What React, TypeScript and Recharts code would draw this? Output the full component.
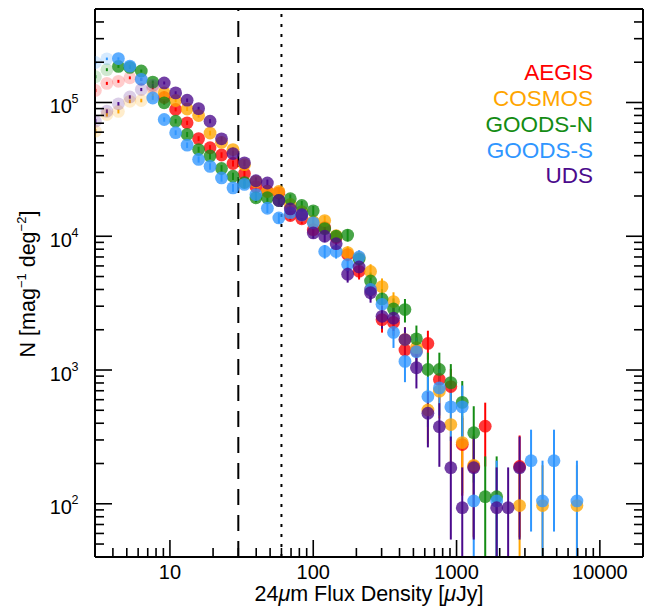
import React from 'react';
import { ScatterChart, Scatter, XAxis, YAxis, ErrorBar, ReferenceLine, Legend } from 'recharts';

// 24um flux density bin centres (uJy), 0.2 mag wide bins
const FLUX = [3.02, 3.63, 4.37, 5.25, 6.31, 7.59, 9.12, 10.96, 13.18, 15.85, 19.05, 22.91, 27.54, 33.11, 39.81, 47.86, 57.54, 69.18, 83.18, 100, 120.2, 144.5, 173.8, 208.9, 251.2, 302, 363.1, 436.5, 524.8, 631, 758.6, 912, 1096, 1318, 1585, 1905, 2291, 2754, 3311, 3981, 4786, 5754, 6918];

// Differential number counts N [mag^-1 deg^-2] per field, null = empty bin
const AEGIS_N = [123000, 139000, 144000, 153000, 149000, 129000, 109000, 88700, 70500, 53700, 45900, 40500, 35000, 29400, 23500, 21700, 21100, 14300, 13500, 11200, 11600, 9800, 7300, 5470, 3990, 2380, 2270, 1410, 1390, 1580, 849, 752, 277, 190, 380, null, null, 190, null, null, null, null, null];
const AEGIS_ERR = [3418, 3634, 3699, 3812, 3762, 3501, 3218, 2903, 2588, 2259, 2088, 1962, 1823, 1671, 1494, 1436, 1416, 1166, 1132, 1032, 1050, 965, 833, 721, 616, 476, 464, 366, 363, 387, 284, 267, 162, 134, 190, null, null, 134, null, null, null, null, null];

const COSMOS_N = [61000, 81300, 85700, 102000, 103500, 113000, 118000, 103500, 89400, 79900, 59100, 50300, 44500, 34300, 25600, 21600, 21600, 17300, 15300, 12900, 13100, 10100, 7550, 6900, 5450, 4200, 3250, 1690, 1470, 503, 695, 391, 287, 194, null, null, null, 97, null, 97, null, null, 97];
const COSMOS_ERR = [2432, 2808, 2883, 3145, 3169, 3310, 3383, 3169, 2945, 2784, 2394, 2209, 2078, 1824, 1576, 1447, 1447, 1295, 1218, 1119, 1127, 990, 856, 818, 727, 638, 561, 405, 378, 221, 260, 195, 167, 137, null, null, null, 97, null, 97, null, null, 97];

const GOODSN_N = [156000, 176000, 186000, 183000, 172000, 142000, 99500, 72500, 57700, 44500, 39800, 32100, 28100, 25200, 19400, 19400, 18500, 19100, 17000, 15500, 11400, 10000, 10200, 6750, 4630, 3400, 2860, 2830, 1710, 1010, 1010, 805, 573, 340, 113, 113, null, null, null, null, null, null, null];
const GOODSN_ERR = [4199, 4460, 4585, 4547, 4409, 4006, 3353, 2862, 2553, 2242, 2121, 1905, 1782, 1688, 1481, 1481, 1446, 1469, 1386, 1323, 1135, 1063, 1074, 873, 723, 620, 568, 565, 440, 338, 338, 302, 254, 196, 113, 113, null, null, null, null, null, null, null];

const GOODSS_N = [199000, 212000, 213000, 187000, 149000, 108000, 74600, 59500, 48000, 37500, 33300, 27300, 23000, 24400, 20500, 16200, 13700, 15000, 14400, 12600, 7700, 7700, 6140, 7000, 4000, 3100, 1910, 1160, 1370, 633, 735, 530, 530, 105, null, 105, null, null, 210, 105, 210, null, 105];
const GOODSS_ERR = [4571, 4718, 4729, 4431, 3955, 3367, 2799, 2500, 2245, 1984, 1870, 1693, 1554, 1601, 1467, 1304, 1199, 1255, 1230, 1150, 899, 899, 803, 857, 648, 571, 448, 349, 379, 258, 278, 236, 236, 105, null, 105, null, null, 148, 105, 148, null, 105];

const UDS_N = [72500, 86000, 97700, 110000, 125000, 134000, 140000, 118000, 104000, 90000, 72500, 53500, 41500, 35400, 26000, 25000, 18500, 16000, 14500, 10600, 10000, 8800, 5200, 5900, 3780, 2520, 2440, 1690, 1040, 475, 377, 186, 93.5, 186, null, 93.5, 93.5, 186, null, null, null, null, null];
const UDS_ERR = [2604, 2836, 3022, 3207, 3419, 3540, 3618, 3322, 3118, 2901, 2604, 2237, 1970, 1819, 1559, 1529, 1315, 1223, 1164, 996, 967, 907, 697, 743, 594, 485, 478, 398, 312, 211, 188, 132, 93.5, 132, null, 93.5, 93.5, 132, null, null, null, null, null];

// number of leading bins below each field's completeness limit
const AEGIS_INCOMPLETE = 6;
const COSMOS_INCOMPLETE = 6;
const GOODSN_INCOMPLETE = 2;
const GOODSS_INCOMPLETE = 2;
const UDS_INCOMPLETE = 6;

// flux limits marked on the plot (uJy)
const DASHED_LIMIT = 30;
const DOTTED_LIMIT = 60;

// axis ranges and ticks
const X_DOMAIN = [3, 20000];
const Y_DOMAIN = [40, 500000];
const X_TICKS = [4, 5, 6, 7, 8, 9, 10, 20, 30, 40, 50, 60, 70, 80, 90, 100, 200, 300, 400, 500, 600, 700, 800, 900, 1000, 2000, 3000, 4000, 5000, 6000, 7000, 8000, 9000, 10000];
const X_MAJOR = [10, 100, 1000, 10000];
const X_LABELS = ['10', '100', '1000', '10000'];
const Y_TICKS = [50, 60, 70, 80, 90, 100, 200, 300, 400, 500, 600, 700, 800, 900, 1000, 2000, 3000, 4000, 5000, 6000, 7000, 8000, 9000, 10000, 20000, 30000, 40000, 50000, 60000, 70000, 80000, 90000, 100000, 200000, 300000, 400000];
const Y_MAJOR = [100, 1000, 10000, 100000];
const Y_EXPONENTS = ['2', '3', '4', '5'];

const FONT = '"Liberation Sans", Helvetica, Arial, sans-serif';

const SERIES = [
  { name: 'AEGIS', color: '#ff0000', n: AEGIS_N, err: AEGIS_ERR, incomplete: AEGIS_INCOMPLETE },
  { name: 'COSMOS', color: '#ffa500', n: COSMOS_N, err: COSMOS_ERR, incomplete: COSMOS_INCOMPLETE },
  { name: 'GOODS-N', color: '#148c14', n: GOODSN_N, err: GOODSN_ERR, incomplete: GOODSN_INCOMPLETE },
  { name: 'GOODS-S', color: '#2f96ff', n: GOODSS_N, err: GOODSS_ERR, incomplete: GOODSS_INCOMPLETE },
  { name: 'UDS', color: '#4b0a8c', n: UDS_N, err: UDS_ERR, incomplete: UDS_INCOMPLETE },
];

// error bars are cut at the bottom of the plot, like the frame clips everything else
const rowsFor = (s: typeof SERIES[number]) =>
  FLUX.map((flux, i) => {
    const n = s.n[i];
    const e = s.err[i];
    if (n == null || e == null) return null;
    return { flux, n, err: [Math.min(e, n - Y_DOMAIN[0]), e], faint: i < s.incomplete };
  }).filter((r) => r != null);

const makeDot = (color: string) => (props: any) => {
  const { cx, cy, payload } = props;
  if (cx == null || cy == null) return null;
  return <circle cx={cx} cy={cy} r={6.4} fill={color} fillOpacity={payload.faint ? 0.2 : 0.78} />;
};

const MAJOR_LEN = 17;
const MINOR_LEN = 9;
const TICK_STROKE = 1.6;

const BottomTick = (props: any) => {
  const { x, y, payload } = props;
  const idx = X_MAJOR.indexOf(payload.value);
  const len = idx >= 0 ? MAJOR_LEN : MINOR_LEN;
  return (
    <g>
      <line x1={x} y1={y} x2={x} y2={y - len} stroke="#000" strokeWidth={TICK_STROKE} />
      {idx >= 0 && (
        <text x={x} y={y + 21.5} textAnchor="middle" fontSize={20} fontFamily={FONT} fill="#000">
          {X_LABELS[idx]}
        </text>
      )}
    </g>
  );
};

const TopTick = (props: any) => {
  const { x, y, payload } = props;
  const len = X_MAJOR.indexOf(payload.value) >= 0 ? MAJOR_LEN : MINOR_LEN;
  return <line x1={x} y1={y} x2={x} y2={y + len} stroke="#000" strokeWidth={TICK_STROKE} />;
};

const LeftTick = (props: any) => {
  const { x, y, payload } = props;
  const idx = Y_MAJOR.indexOf(payload.value);
  const len = idx >= 0 ? MAJOR_LEN : MINOR_LEN;
  return (
    <g>
      <line x1={x} y1={y} x2={x + len} y2={y} stroke="#000" strokeWidth={TICK_STROKE} />
      {idx >= 0 && (
        <g fontFamily={FONT} fill="#000">
          <text x={x - 23} y={y + 10.5} textAnchor="end" fontSize={20}>10</text>
          <text x={x - 23.5} y={y + 0.5} textAnchor="start" fontSize={12.5}>{Y_EXPONENTS[idx]}</text>
        </g>
      )}
    </g>
  );
};

const RightTick = (props: any) => {
  const { x, y, payload } = props;
  const len = Y_MAJOR.indexOf(payload.value) >= 0 ? MAJOR_LEN : MINOR_LEN;
  return <line x1={x} y1={y} x2={x - len} y2={y} stroke="#000" strokeWidth={TICK_STROKE} />;
};

const FieldLegend = () => (
  <div style={{ textAlign: 'right', fontFamily: FONT, fontSize: 22.5, lineHeight: '25.8px' }}>
    {SERIES.map((s) => (
      <div key={s.name} style={{ color: s.color }}>{s.name}</div>
    ))}
  </div>
);

const AXIS_LINE = { stroke: '#000', strokeWidth: 2 };

export default function App() {
  return (
    <div style={{ position: 'absolute', left: 0, top: 0, width: 656, height: 611, background: '#fff' }}>
      <ScatterChart width={656} height={611} margin={{ top: 0, right: 0, bottom: 0, left: 0 }}>
        <XAxis
          xAxisId="b"
          dataKey="flux"
          type="number"
          scale="log"
          domain={X_DOMAIN}
          allowDataOverflow
          ticks={X_TICKS}
          interval={0}
          height={54}
          tickSize={0}
          tickMargin={0}
          tickLine={false}
          axisLine={AXIS_LINE}
          tick={<BottomTick />}
        />
        <XAxis
          xAxisId="t"
          orientation="top"
          type="number"
          scale="log"
          domain={X_DOMAIN}
          allowDataOverflow
          ticks={X_TICKS}
          interval={0}
          height={9}
          tickSize={0}
          tickMargin={0}
          tickLine={false}
          axisLine={AXIS_LINE}
          tick={<TopTick />}
        />
        <YAxis
          yAxisId="l"
          dataKey="n"
          type="number"
          scale="log"
          domain={Y_DOMAIN}
          allowDataOverflow
          ticks={Y_TICKS}
          interval={0}
          width={95}
          tickSize={0}
          tickMargin={0}
          tickLine={false}
          axisLine={AXIS_LINE}
          tick={<LeftTick />}
        />
        <YAxis
          yAxisId="r"
          orientation="right"
          type="number"
          scale="log"
          domain={Y_DOMAIN}
          allowDataOverflow
          ticks={Y_TICKS}
          interval={0}
          width={13}
          tickSize={0}
          tickMargin={0}
          tickLine={false}
          axisLine={AXIS_LINE}
          tick={<RightTick />}
        />
        <ReferenceLine xAxisId="b" yAxisId="l" x={DASHED_LIMIT} stroke="#000" strokeWidth={2} strokeDasharray="16 10" />
        <ReferenceLine xAxisId="b" yAxisId="l" x={DOTTED_LIMIT} stroke="#000" strokeWidth={2} strokeDasharray="3 7" />
        {SERIES.map((s) => (
          <Scatter
            key={s.name}
            name={s.name}
            xAxisId="b"
            yAxisId="l"
            data={rowsFor(s)}
            fill={s.color}
            shape={makeDot(s.color)}
            isAnimationActive={false}
          >
            <ErrorBar dataKey="err" direction="y" width={0} stroke={s.color} strokeWidth={2} isAnimationActive={false} />
          </Scatter>
        ))}
        <Legend
          layout="horizontal"
          verticalAlign="middle"
          align="center"
          content={<FieldLegend />}
          wrapperStyle={{ top: 60.3, right: 63, left: 'auto', width: 'auto', bottom: 'auto' }}
        />
        <text x={369} y={601} textAnchor="middle" fontSize={21.5} fontFamily={FONT} fill="#000">
          24<tspan fontStyle="italic">μ</tspan>m Flux Density [<tspan fontStyle="italic">μ</tspan>Jy]
        </text>
        <text transform="translate(35,284) rotate(-90)" textAnchor="middle" fontSize={21.5} fontFamily={FONT} fill="#000">
          N [mag<tspan dy={-9} fontSize={13}>−1</tspan>
          <tspan dy={9}> deg</tspan>
          <tspan dy={-9} fontSize={13}>−2</tspan>
          <tspan dy={9}>]</tspan>
        </text>
      </ScatterChart>
    </div>
  );
}
